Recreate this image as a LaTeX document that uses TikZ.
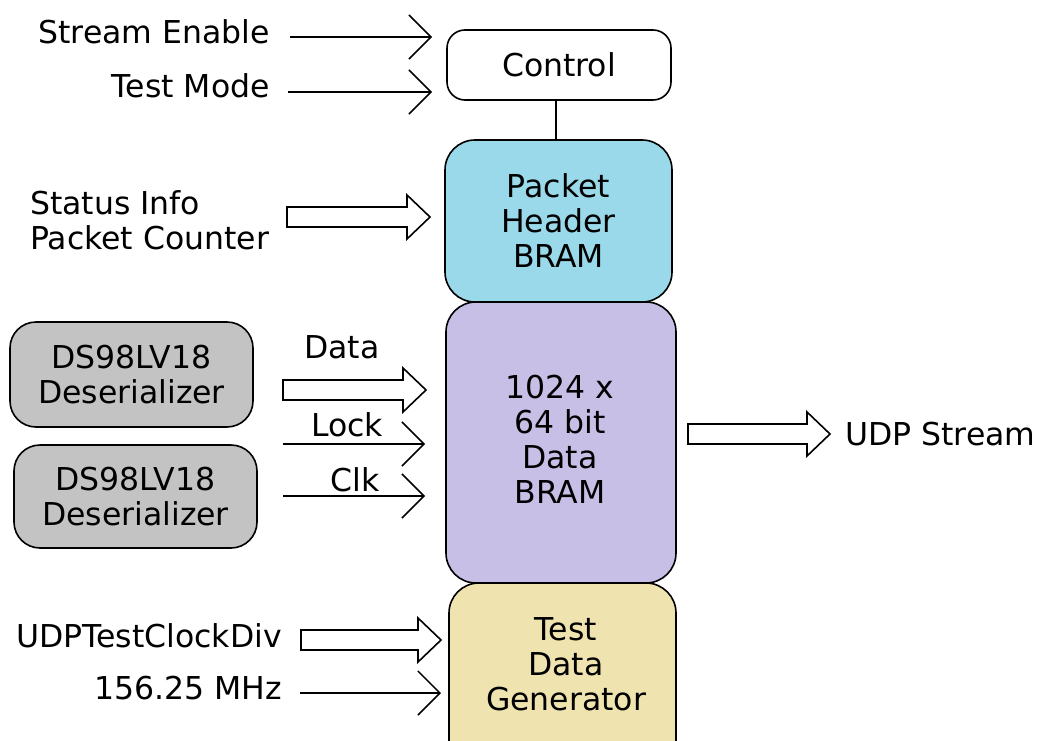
\documentclass[tikz,border=0pt]{standalone}
\usepackage{fontspec}
\setmainfont{DejaVu Sans}
\usetikzlibrary{arrows.meta,calc}
\definecolor{hdrblue}{RGB}{153,217,234}
\definecolor{datalav}{RGB}{200,191,231}
\definecolor{testyel}{RGB}{239,228,176}
\definecolor{desgray}{RGB}{195,195,195}
\tikzset{
  lbl/.style={inner sep=0pt,font=\fontsize{31.5}{35}\selectfont},
  boxs/.style={draw,line width=1.6pt,inner sep=0pt,font=\fontsize{31.5}{35}\selectfont,align=center},
  larr/.style={line width=1.5pt,-{Straight Barb[length=22pt,width=44pt,line width=1.5pt]}},
  barr/.style={draw,fill=white,line width=1.6pt,line join=miter},
}
\newcommand\blockarrow[2]{%
  \draw[barr] ($(#1)+(0,-10)$) -- ($(#2)+(-23,-10)$) -- ($(#2)+(-23,-22)$) -- (#2)
    -- ($(#2)+(-23,22)$) -- ($(#2)+(-23,10)$) -- ($(#1)+(0,10)$) -- cycle;}
\begin{document}
\begin{tikzpicture}[x=1pt,y=-1pt]
\useasboundingbox (0,0) rectangle (1038,741);
\clip (0,0) rectangle (1038,741);
% boxes
\node[boxs,fill=white,rounded corners=18pt,minimum width=224pt,minimum height=70pt] (ctrl) at (559,65) {Control};
\node[boxs,fill=hdrblue,rounded corners=30pt,minimum width=227pt,minimum height=162pt] (hdr) at (558.5,221) {Packet\\Header\\BRAM};
\node[boxs,fill=datalav,rounded corners=30pt,minimum width=230pt,minimum height=281pt] (dat) at (561,442.5) {};
\node[lbl,align=center] (dattxt) at (560,439) {1024 x\\64 bit\\Data\\BRAM};
\node[boxs,fill=testyel,rounded corners=30pt,minimum width=227pt,minimum height=187pt] (tdg) at (562.5,676.5) {};
\node[lbl,align=center] (tdgtxt) at (566,664) {Test\\Data\\Generator};
\node[boxs,fill=desgray,rounded corners=26pt,minimum width=243pt,minimum height=105pt] (des1) at (131.5,374.5) {DS98LV18\\Deserializer};
\node[boxs,fill=desgray,rounded corners=26pt,minimum width=243pt,minimum height=103pt] (des2) at (135.5,496.5) {DS98LV18\\Deserializer};
% control to header
\draw[line width=1.5pt] (ctrl.south -| 556,0) -- (hdr.north -| 556,0);
% labels
\node[lbl,anchor=base east] (se) at (270,44) {Stream Enable};
\node[lbl,anchor=base east] (tm) at (270,98) {Test Mode};
\node[lbl,anchor=west,align=left] (si) at (30,220) {Status Info\\Packet Counter};
\node[lbl] (dlbl) at (342,347) {Data};
\node[lbl] (llbl) at (347,425) {Lock};
\node[lbl] (clbl) at (355,480) {Clk};
\node[lbl,anchor=base west] (udp) at (845,445) {UDP Stream};
\node[lbl,anchor=base east] (ucd) at (282,647) {UDPTestClockDiv};
\node[lbl,anchor=base east] (mhz) at (282,699) {156.25 MHz};
% arrow end points
\coordinate (se1) at (290,37);  \coordinate (se2) at (432,37);
\coordinate (tm1) at (288,92);  \coordinate (tm2) at (432,92);
\coordinate (si1) at (287,217); \coordinate (si2) at (430,217);
\coordinate (da1) at (283,390); \coordinate (da2) at (426,390);
\coordinate (lk1) at (283,444); \coordinate (lk2) at (425,444);
\coordinate (ck1) at (283,496); \coordinate (ck2) at (425,496);
\coordinate (ud1) at (688,434); \coordinate (ud2) at (830,434);
\coordinate (uc1) at (301,640); \coordinate (uc2) at (441,640);
\coordinate (mh1) at (300,693); \coordinate (mh2) at (441,693);
% arrows
\draw[larr] (se1) -- (se2);
\draw[larr] (tm1) -- (tm2);
\blockarrow{si1}{si2}
\blockarrow{da1}{da2}
\draw[larr] (lk1) -- (lk2);
\draw[larr] (ck1) -- (ck2);
\blockarrow{ud1}{ud2}
\blockarrow{uc1}{uc2}
\draw[larr] (mh1) -- (mh2);
\end{tikzpicture}
\end{document}
